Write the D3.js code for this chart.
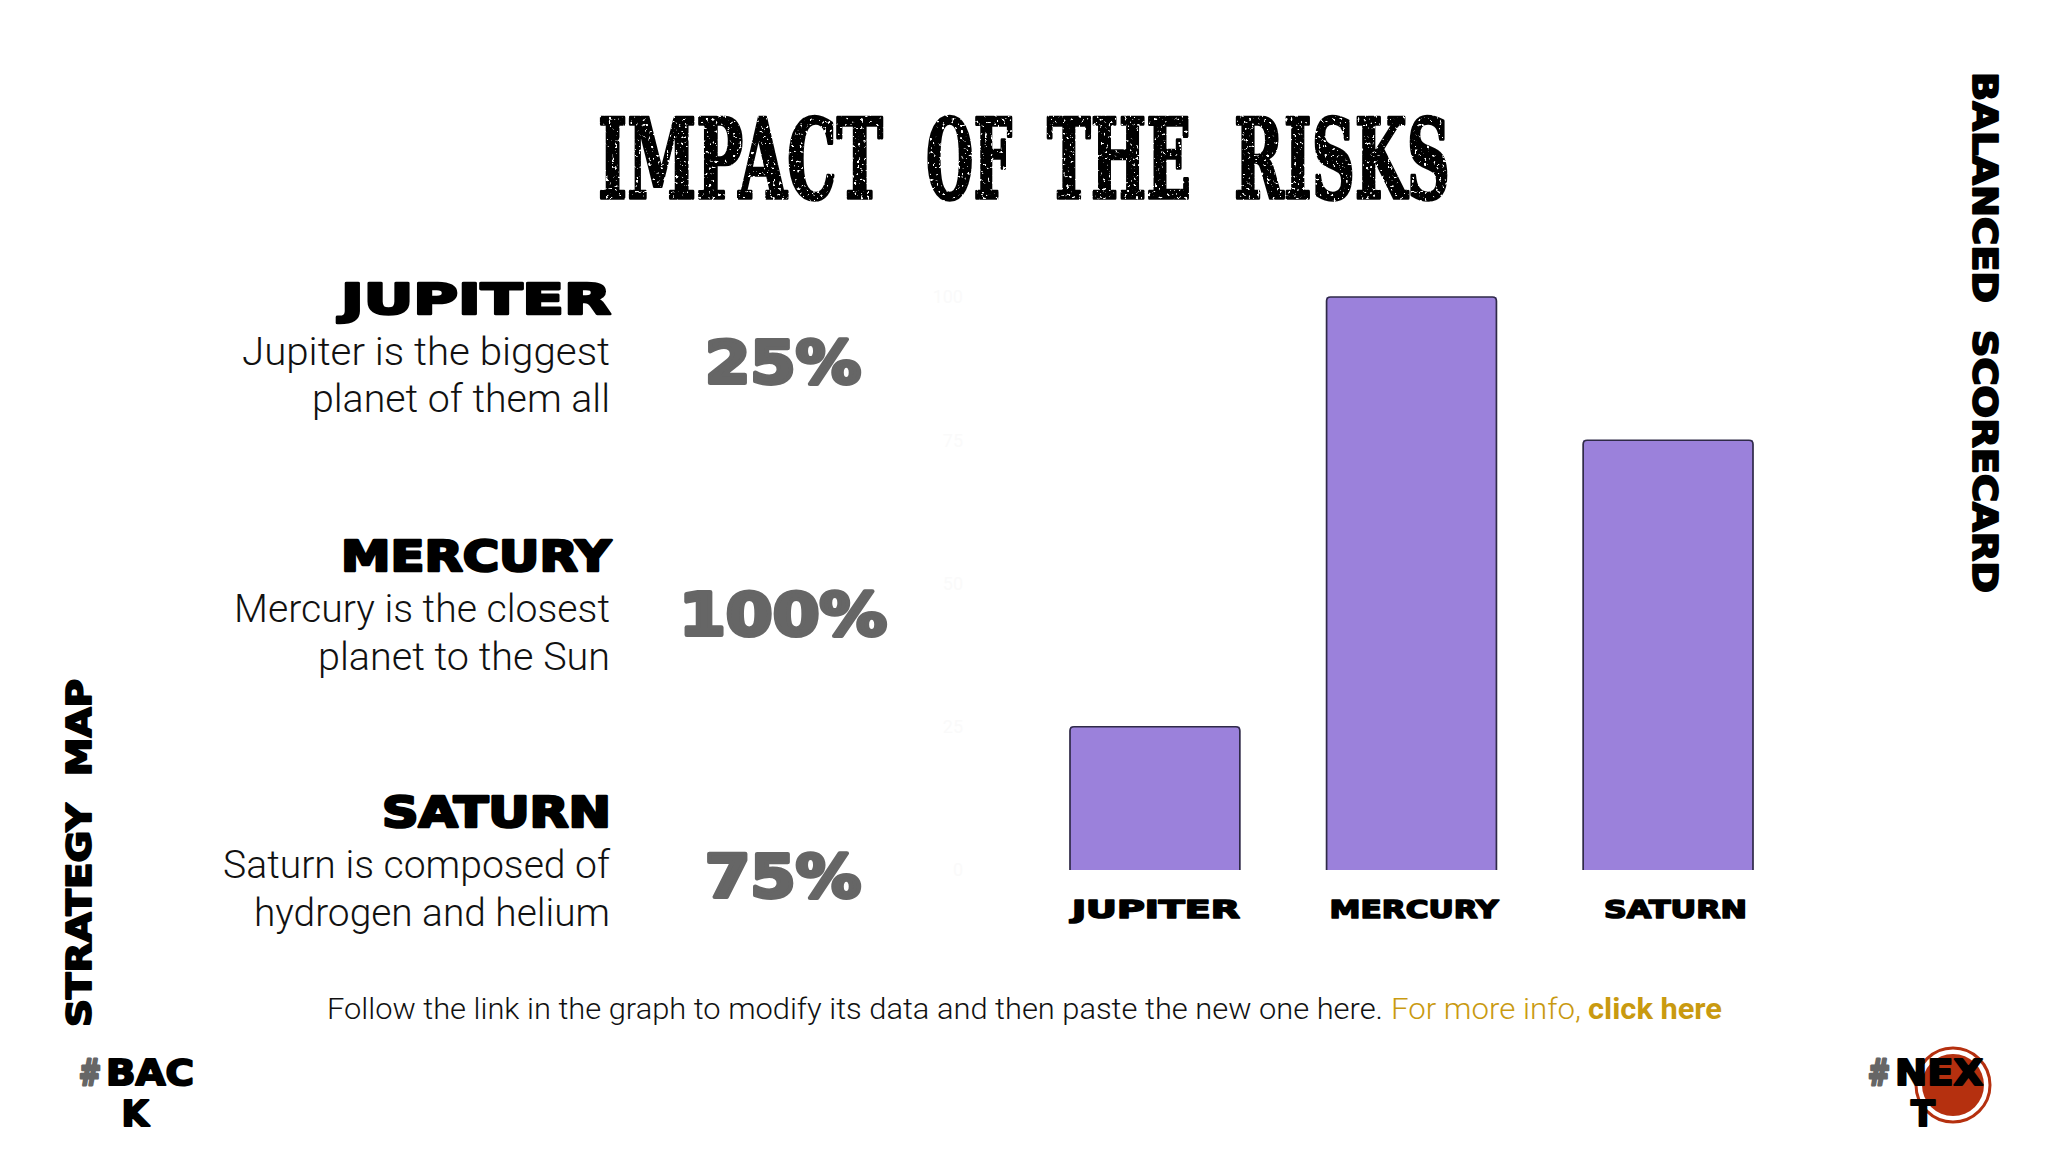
<!DOCTYPE html>
<html><head><meta charset="utf-8">
<style>html,body{margin:0;padding:0;background:#fff}svg{display:block}</style>
<script src="https://cdnjs.cloudflare.com/ajax/libs/d3/7.8.5/d3.min.js"></script>
</head><body><div id="c"></div>
<script>
const categories = ["JUPITER","MERCURY","SATURN"];
const values = [25,100,75];
const yTicks = [0,25,50,75,100];
const descriptions = [["Jupiter is the biggest","planet of them all"],["Mercury is the closest","planet to the Sun"],["Saturn is composed of","hydrogen and helium"]];
const valueLabels = ["25%","100%","75%"];
const titleWords = ["IMPACT","OF","THE","RISKS"];
const footerParts = ["Follow the link in the graph to modify its data and then paste the new one here.","For more info, ","click here"];

const W=2048,H=1152;
const heavy='"DejaVu Sans"', light='Roboto';
const svg=d3.select('#c').append('svg').attr('width',W).attr('height',H).attr('viewBox',`0 0 ${W} ${H}`);
const defs=svg.append('defs');
const f=defs.append('filter').attr('id','distress').attr('filterUnits','userSpaceOnUse').attr('x',560).attr('y',80).attr('width',940).attr('height',160);
f.append('feTurbulence').attr('type','fractalNoise').attr('baseFrequency','0.33').attr('numOctaves',2).attr('seed',4).attr('result','n');
f.append('feColorMatrix').attr('in','n').attr('type','matrix').attr('values','0 0 0 0 0  0 0 0 0 0  0 0 0 0 0  0 0 0 -11 8').attr('result','m');
f.append('feComposite').attr('in','SourceGraphic').attr('in2','m').attr('operator','in');

function fit(sel,x,y,len,anchor,size,family,weight,fill,stroke){
  const t=sel.append('text').attr('x',x).attr('y',y).attr('text-anchor',anchor)
   .attr('font-family',family).attr('font-weight',weight).attr('font-size',size).attr('fill',fill);
  if(len) t.attr('textLength',len).attr('lengthAdjust','spacingAndGlyphs');
  if(stroke) t.attr('stroke',fill).attr('stroke-width',stroke).attr('stroke-linejoin','round');
  return t;
}
// title: each word is squeezed to its measured width with a horizontal scale
const titleG=svg.append('g').attr('filter','url(#distress)');
const titleX=[598,926,1047,1234], titleW=[285,86,144,216];
titleWords.forEach((w,i)=>{
  const wg=titleG.append('g');
  const t=fit(wg,0,0,null,'start',110,'"DejaVu Serif"',700,'#000',3.6).text(w);
  const sx=titleW[i]/t.node().getComputedTextLength();
  wg.attr('transform',`translate(${titleX[i]},198) scale(${sx},1)`);
});

// left column
const headW=[270,270,229], bodyW=[[368,298],[376,292],[387,356]];
const headY=[314,571,827], bodyY=[[365,412],[622,670],[878,926]], pctY=[383,635,897], pctW=[156,208,156];
categories.forEach((c,i)=>{
  fit(svg,611,headY[i],headW[i],'end',42,heavy,700,'#000',2.6).text(c);
  descriptions[i].forEach((d,j)=>fit(svg,610,bodyY[i][j],bodyW[i][j],'end',38,light,300,'#111').text(d));
  fit(svg,783,pctY[i],pctW[i],'middle',58,heavy,700,'#666',4).text(valueLabels[i]);
});

// chart
const x=d3.scaleBand().domain(categories).range([1070,1753]).paddingInner(0.338).paddingOuter(0);
const y=d3.scaleLinear().domain([0,100]).range([870,297]);
const g=svg.append('g');
const yAx=g.append('g').attr('transform','translate(966,0)').call(d3.axisLeft(y).tickValues(yTicks).tickSize(0).tickFormat(d=>d));
yAx.select('.domain').remove();
yAx.selectAll('text').attr('fill','#fafafa').attr('font-size',18).attr('font-family',light);
const bw=x.bandwidth();
g.selectAll('rect.bar').data(values).join('rect').attr('class','bar')
 .attr('x',(d,i)=>x(categories[i])).attr('y',d=>y(d)).attr('width',bw).attr('height',d=>y(0)-y(d)).attr('fill','#9b81db');
g.selectAll('path.edge').data(values).join('path').attr('class','edge')
 .attr('d',(d,i)=>{const l=x(categories[i]),r=l+bw,t=y(d),b=y(0);return `M${l},${b}V${t+4}Q${l},${t} ${l+4},${t}H${r-4}Q${r},${t} ${r},${t+4}V${b}`;})
 .attr('fill','none').attr('stroke','#2f2a48').attr('stroke-width',1.7);
const xAx=g.append('g').attr('transform','translate(0,870)').call(d3.axisBottom(x).tickSize(0).tickPadding(30));
xAx.select('.domain').remove();
xAx.selectAll('text').attr('font-family',heavy).attr('font-weight',700).attr('font-size',25).attr('fill','#000').attr('stroke','#000').attr('stroke-width',1.6).attr('stroke-linejoin','round')
 .attr('textLength',(d,i)=>[168,169,143][i]).attr('lengthAdjust','spacingAndGlyphs').attr('dx',(d,i)=>[1,2.5,7.5][i]);

// footer
fit(svg,327,1019,1056,'start',30,light,300,'#111').text(footerParts[0]);
fit(svg,1391,1019,190,'start',30,light,300,'#c99a10').text(footerParts[1]);
fit(svg,1588,1019,134,'start',30,light,700,'#c99a10').text(footerParts[2]);

// side nav
const v1=svg.append('g').attr('transform','translate(1973,72) rotate(90)');
fit(v1,0,0,521,'start',33,heavy,700,'#000',1.8).style('white-space','pre').text('BALANCED  SCORECARD');
const v2=svg.append('g').attr('transform','translate(91,1027) rotate(-90)');
fit(v2,0,0,348,'start',33,heavy,700,'#000',1.8).style('white-space','pre').text('STRATEGY  MAP');

// next circle
svg.append('circle').attr('cx',1953).attr('cy',1085).attr('r',37).attr('fill','#fff').attr('stroke','#b5300f').attr('stroke-width',3);
svg.append('circle').attr('cx',1953).attr('cy',1085).attr('r',31).attr('fill','#b5300f');

function nav(xs,hashW,word,last,cx){
  fit(svg,xs,1085,hashW,'start',35,heavy,700,'#666',3).text('#');
  fit(svg,xs+hashW+5,1085,115-hashW-5,'start',35,heavy,700,'#000',2).text(word);
  fit(svg,cx,1126,null,'middle',35,heavy,700,'#000',2).text(last);
}
nav(79,22,'BAC','K',135);
nav(1868,22,'NEX','T',1923);
</script></body></html>
